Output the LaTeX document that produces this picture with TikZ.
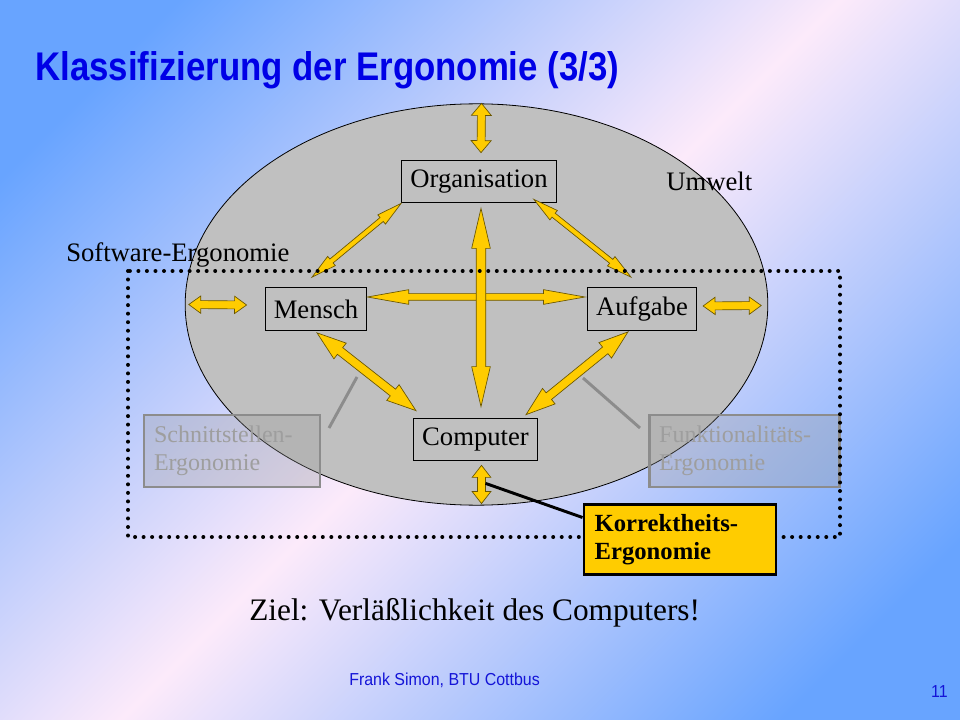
\documentclass[tikz,border=0pt]{standalone}
\usepackage{fontspec}
\setmainfont{Liberation Serif}
\newfontfamily\titelschrift[FakeStretch=0.87]{Liberation Sans}
\newfontfamily\fussschrift[FakeStretch=0.92]{Liberation Sans}
\usetikzlibrary{shapes.geometric,calc}

\definecolor{titelblau}{RGB}{0,0,230}
\definecolor{fussblau}{RGB}{20,20,215}
\definecolor{gelb}{RGB}{255,204,0}
\definecolor{pfeilrand}{RGB}{105,85,0}
\definecolor{silber}{RGB}{192,192,192}
\definecolor{grautext}{RGB}{158,158,158}
\definecolor{graurand}{RGB}{140,140,140}
\definecolor{hgblau}{RGB}{104,164,255}
\definecolor{hgrosa}{RGB}{252,234,250}

\pgfdeclarehorizontalshading{hintergrund}{100bp}{color(0bp)=(hgblau); color(22bp)=(hgblau); color(50bp)=(hgrosa); color(78bp)=(hgblau); color(100bp)=(hgblau)}

\tikzset{
  kasten/.style={draw=black, fill=silber, line width=0.8pt, minimum height=32pt, inner xsep=6.5pt, font=\fontsize{20}{24}\selectfont},
  graukasten/.style={draw=graurand, line width=2.2pt, fill=gray!80, fill opacity=0.3, text opacity=1, text=grautext, minimum height=54pt, inner xsep=7.5pt, align=left, font=\fontsize{18}{21}\selectfont},
  gelbkasten/.style={draw=black, line width=2.2pt, fill=gelb, minimum width=144pt, minimum height=53pt, inner xsep=8pt, text width=128pt, align=left, font=\bfseries\fontsize{18.5}{20.5}\selectfont},
  pfeil/.style={fill=gelb, draw=pfeilrand, line width=0.5pt, line join=miter},
  punkte/.style={line width=3pt, dash pattern=on 0pt off 6.4pt, line cap=round},
  zeiger/.style={draw=graurand, line width=2.2pt},
  schrift/.style={font=\fontsize{20}{24}\selectfont, inner sep=0pt}
}

% Doppelpfeil: von, nach, halbe Schaftbreite, halbe Kopfbreite, Kopflaenge
\newcommand{\doppelpfeil}[5]{%
  \path (#1) coordinate (pa) (#2) coordinate (pb);
  \path ($(pa)!#5!(pb)$) coordinate (ha) ($(pb)!#5!(pa)$) coordinate (hb);
  \draw[pfeil] (pa) -- ($(ha)!#4!90:(pb)$) -- ($(ha)!#3!90:(pb)$) -- ($(hb)!#3!-90:(pa)$) -- ($(hb)!#4!-90:(pa)$)
    -- (pb) -- ($(hb)!#4!90:(pa)$) -- ($(hb)!#3!90:(pa)$) -- ($(ha)!#3!-90:(pb)$) -- ($(ha)!#4!-90:(pb)$) -- cycle;
}

\begin{document}
\begin{tikzpicture}[x=0.75pt, y=-0.75pt]
\useasboundingbox (0,0) rectangle (960,720);
\shade[shading=hintergrund, shading angle=-45] (0,0) rectangle (960,720);

%Umwelt
\node[ellipse, draw, fill=silber, line width=0.6pt, minimum width=437pt, minimum height=301pt, inner sep=0pt] (umwelt) at (476.5,304.5) {};

\node[kasten] (org) at (479,181.5) {Organisation};
\node[kasten] (mensch) at (316,309) {Mensch};
\node[kasten] (aufg) at (642,309) {Aufgabe};
\node[kasten] (comp) at (475.5,439.5) {Computer};

%Pfeile
\doppelpfeil{$(umwelt.north)+(5,0)$}{$(org.north)+(2,-7)$}{3pt}{7.5pt}{9pt}
\doppelpfeil{$(umwelt.west)+(4,0)$}{$(mensch.west)+(-18,-4)$}{3pt}{6.5pt}{9pt}
\doppelpfeil{$(aufg.east)+(6,-3)$}{$(umwelt.east)+(-7,1)$}{3pt}{6.5pt}{9pt}
\doppelpfeil{$(comp.south)+(6,4)$}{$(umwelt.south)+(5,-2)$}{3pt}{7pt}{9pt}
\doppelpfeil{org.south west}{$(mensch.north)+(-4,-10)$}{1.9pt}{4.5pt}{19pt}
\doppelpfeil{$(org.south east)+(-23,-4)$}{$(aufg.north)+(-11,-10)$}{1.9pt}{4.5pt}{19pt}
\doppelpfeil{$(mensch.east)+(0,-12)$}{$(aufg.west)+(-2,-12)$}{2.5pt}{5.5pt}{31pt}
\doppelpfeil{$(org.south)+(2,5)$}{$(comp.north)+(5.5,-11)$}{3.6pt}{7pt}{30pt}
\doppelpfeil{$(mensch.south)+(1,2)$}{$(comp.north west)+(3,-7)$}{3.2pt}{7.5pt}{22pt}
\doppelpfeil{$(aufg.south)+(-14,1)$}{$(comp.north east)+(-12,-3)$}{3.2pt}{7.5pt}{22pt}

%Software-Ergonomie
\coordinate (s1) at (357,377);
\coordinate (s2) at (329,428);
\coordinate (f1) at (583,378);
\coordinate (f2) at (640,428);
\draw[zeiger] (s1) -- (s2);
\draw[zeiger] (f1) -- (f2);
\node[graukasten, minimum width=132pt, text width=117pt] (schnitt) at (232,451) {Schnittstellen-\\Ergonomie};
\node[graukasten, minimum width=143pt, text width=128pt] (funkt) at (744.5,451) {Funktionalitäts-\\Ergonomie};
\draw[punkte] (128,271) rectangle (840,537);

\node[gelbkasten] (korr) at (680,539.5) {Korrektheits-\\Ergonomie};
\draw[line width=2.2pt] ($(comp.south)+(10,22)$) -- ($(korr.west)+(0,-22)$);

%Texte
\node[anchor=base west, font=\titelschrift\bfseries\fontsize{30}{34}\selectfont, text=titelblau, inner sep=0pt] (titel) at (35,81) {Klassifizierung der Ergonomie (3/3)};
\node[schrift, anchor=base west] (umwtext) at (666,191) {Umwelt};
\node[schrift, anchor=base west] (softtext) at (66,262) {Software-Ergonomie};
\node[anchor=base west, font=\fontsize{23.5}{28}\selectfont, inner sep=0pt] (ziel) at (249,620) {Ziel: Verläßlichkeit des Computers!};
\node[anchor=base west, font=\fussschrift\fontsize{13}{15}\selectfont, text=fussblau, inner sep=0pt] (fuss) at (349,685) {Frank Simon, BTU Cottbus};
\node[anchor=base east, font=\fussschrift\fontsize{13}{15}\selectfont, text=fussblau, inner sep=0pt] (seite) at (948,697) {11};
\end{tikzpicture}
\end{document}
